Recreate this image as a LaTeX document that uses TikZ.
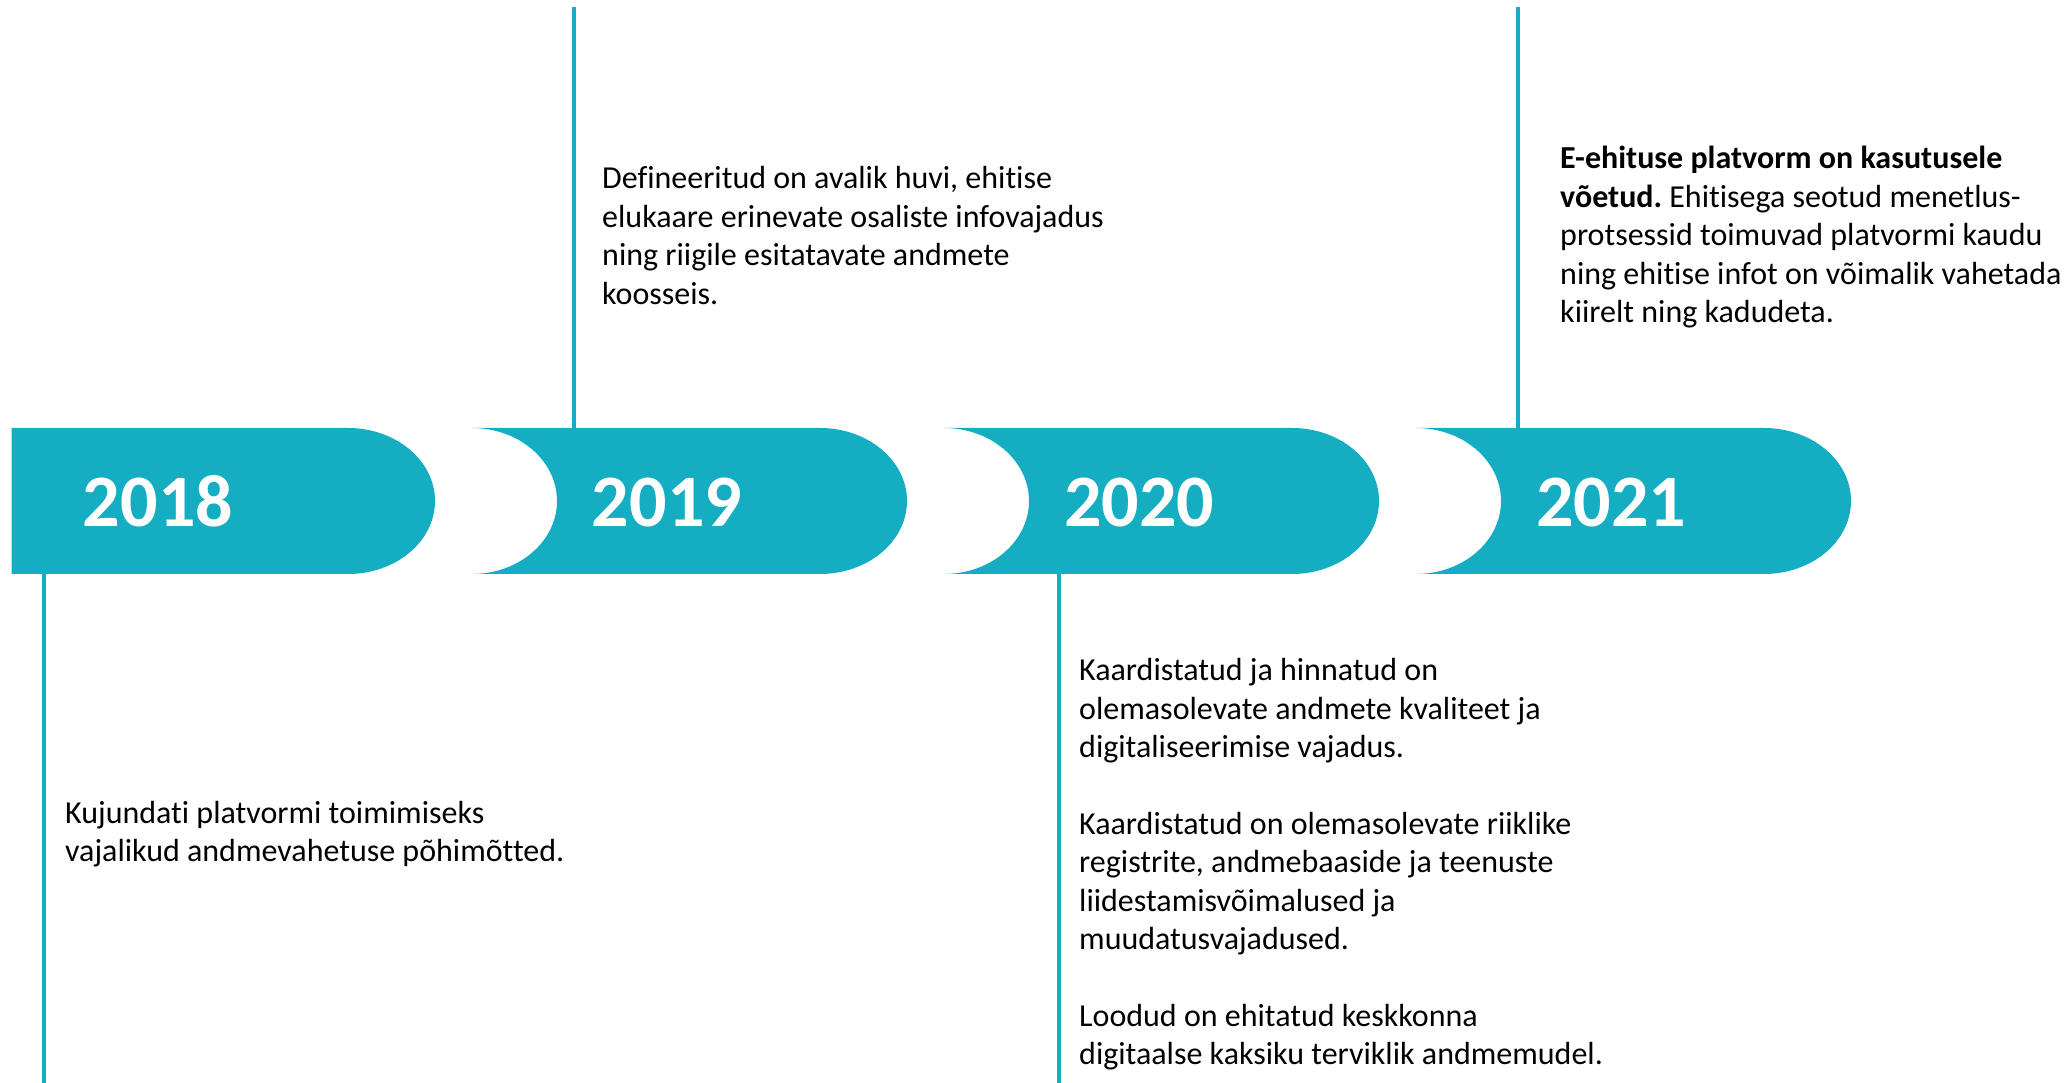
\documentclass[tikz,border=0pt]{standalone}
\usepackage{fontspec}
\setmainfont[Ligatures=NoCommon]{Carlito}
\frenchspacing
\definecolor{teal1}{HTML}{14ADC2}
\tikzset{
  band/.style={fill=teal1, draw=none},
  yearlbl/.style={text=white, font=\fontsize{74}{80}\selectfont\bfseries, inner sep=0pt, anchor=base},
  desc/.style={text=black, inner sep=0pt, anchor=base west, font=\fontsize{32}{38.4}\selectfont},
  stem/.style={draw=teal1, line width=3.8pt}
}
\newcommand{\desctext}[1]{\parbox[t]{560pt}{\fontsize{32}{38.4}\selectfont\frenchspacing\raggedright #1}}
\begin{document}
\begin{tikzpicture}[x=1pt,y=1pt]
\useasboundingbox (0,0) rectangle (2066,1083);
% band shapes
\path[band] (11.5,655) -- (348,655) arc[start angle=90,end angle=-90,x radius=87,y radius=73] -- (11.5,509) -- cycle;
\foreach \L/\F in {472/820, 944/1292, 1416/1764}{
  \path[band] (\L,655) -- (\F,655) arc[start angle=90,end angle=-90,x radius=87,y radius=73]
     -- (\L,509) arc[start angle=-90,end angle=90,x radius=85,y radius=73] -- cycle;
}
% year labels
\node[yearlbl] (y2018) at (158,556.5) {2018};
\node[yearlbl] (y2019) at (667,556.5) {2019};
\node[yearlbl] (y2020) at (1139,556.5) {2020};
\node[yearlbl] (y2021) at (1611,556.5) {2021};
% stem coordinates
\coordinate (s18a) at (44,509);   \coordinate (s18b) at (44,0);
\coordinate (s19a) at (574,655);  \coordinate (s19b) at (574,1076);
\coordinate (s20a) at (1059,509); \coordinate (s20b) at (1059,0);
\coordinate (s21a) at (1518,655); \coordinate (s21b) at (1518,1076);
\draw[stem] (s18a) -- (s18b);
\draw[stem] (s19a) -- (s19b);
\draw[stem] (s20a) -- (s20b);
\draw[stem] (s21a) -- (s21b);
% descriptions
\node[desc] (t2018) at (65,259.5) {\desctext{Kujundati platvormi toimimiseks\\vajalikud andmevahetuse põhimõtted.}};
\node[desc] (t2019) at (602,894) {\desctext{Defineeritud on avalik huvi, ehitise\\elukaare erinevate osaliste infovajadus\\ning riigile esitatavate andmete\\koosseis.}};
\node[desc] (t2020) at (1079,402) {\desctext{Kaardistatud ja hinnatud on\\olemasolevate andmete kvaliteet ja\\digitaliseerimise vajadus.\\[38.4pt]Kaardistatud on olemasolevate riiklike\\registrite, andmebaaside ja teenuste\\liidestamisvõimalused ja\\muudatusvajadused.\\[38.4pt]Loodud on ehitatud keskkonna\\digitaalse kaksiku terviklik andmemudel.}};
\node[desc] (t2021) at (1560,914) {\desctext{\textbf{E-ehituse platvorm on kasutusele}\\\textbf{võetud.} Ehitisega seotud menetlus-\\protsessid toimuvad platvormi kaudu\\ning ehitise infot on võimalik vahetada\\kiirelt ning kadudeta.}};
\end{tikzpicture}
\end{document}
